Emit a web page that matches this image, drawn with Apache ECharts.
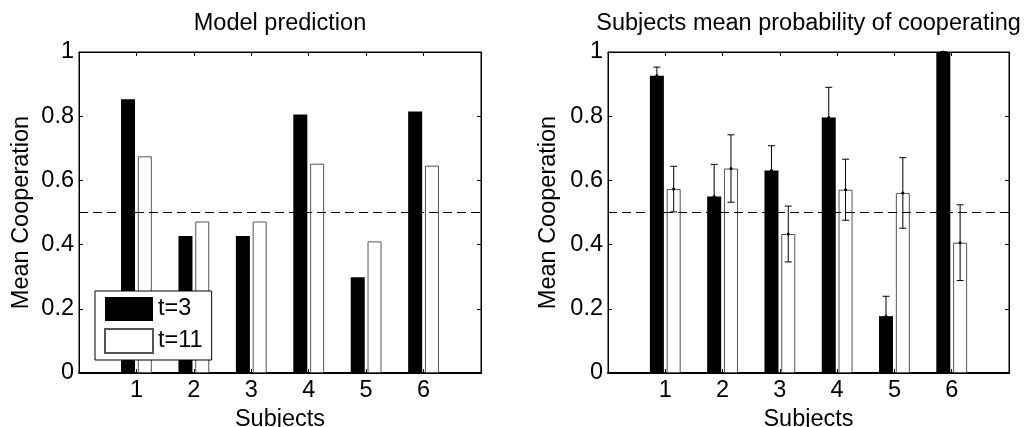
<!DOCTYPE html>
<html>
<head>
<meta charset="utf-8">
<script src="https://cdn.jsdelivr.net/npm/echarts@6/dist/echarts.min.js"></script>
<style>
html,body{margin:0;padding:0;background:#fff;}
#c{width:1025px;height:427px;}
</style>
</head>
<body>
<div id="c"></div>
<script>
// ---- data ----
const categories = ['', '1', '2', '3', '4', '5', '6', ''];
const modelT3 = [0.853, 0.427, 0.427, 0.805, 0.298, 0.815];
const modelT11 = [0.675, 0.472, 0.472, 0.652, 0.410, 0.646];
const subjT3 = [0.926, 0.550, 0.631, 0.796, 0.177, 1.0];
const subjT11 = [0.573, 0.637, 0.433, 0.571, 0.561, 0.406];
const subjT3Err = [0.027, 0.100, 0.077, 0.094, 0.062, 0.0];
const subjT11Err = [0.071, 0.105, 0.087, 0.095, 0.110, 0.118];
const yTicks = [0, 0.2, 0.4, 0.6, 0.8, 1];
const refLine = 0.5;
const titles = ['Model prediction', 'Subjects mean probability of cooperating'];
const legendNames = ['t=3', 't=11'];

// ---- styling ----
const FONT = 'Liberation Sans, Arial, Helvetica, sans-serif';
const FS = 23.5;
const BAR_W = 14;
const GAP_FRAC = 0.2;
const OFF = BAR_W * (1 + GAP_FRAC) / 2;
const Y_MIN = yTicks[0];
const Y_MAX = yTicks[yTicks.length - 1];

function pad(arr) { return ['-'].concat(arr, ['-']); }

const grids = [
  { left: 79, top: 52, width: 402, height: 321, outerBoundsMode: 'none', containLabel: false,
    show: true, borderColor: '#000', borderWidth: 1 },
  { left: 608, top: 52, width: 401, height: 321, outerBoundsMode: 'none', containLabel: false,
    show: true, borderColor: '#000', borderWidth: 1 }
];

function xAxes(gi) {
  return [
    {
      gridIndex: gi, type: 'category', data: categories, boundaryGap: false,
      position: 'bottom',
      axisLine: { show: true, onZero: false, lineStyle: { color: '#000', width: 2 } },
      axisTick: { show: true, inside: true, length: 4, lineStyle: { color: '#000' } },
      axisLabel: { show: true, color: '#000', fontFamily: FONT, fontSize: FS, margin: 6, interval: 0 },
      name: 'Subjects', nameLocation: 'middle', nameGap: 33,
      nameTextStyle: { color: '#000', fontFamily: FONT, fontSize: FS }
    },
    {
      gridIndex: gi, type: 'category', data: categories, boundaryGap: false,
      position: 'top',
      axisLine: { show: true, onZero: false, lineStyle: { color: '#000', width: 1 } },
      axisTick: { show: true, inside: true, length: 4, lineStyle: { color: '#000' } },
      axisLabel: { show: false }
    }
  ];
}
function yAxes(gi, nameGap) {
  return [
    {
      gridIndex: gi, type: 'value', min: Y_MIN, max: Y_MAX,
      interval: yTicks[1] - yTicks[0], position: 'left',
      axisLine: { show: true, onZero: false, lineStyle: { color: '#000', width: 1 } },
      axisTick: { show: true, inside: true, length: 4, lineStyle: { color: '#000' } },
      axisLabel: { color: '#000', fontFamily: FONT, fontSize: FS, margin: 5 },
      splitLine: { show: false },
      name: 'Mean Cooperation', nameLocation: 'middle', nameGap: nameGap,
      nameTextStyle: { color: '#000', fontFamily: FONT, fontSize: FS }
    },
    {
      gridIndex: gi, type: 'value', min: Y_MIN, max: Y_MAX,
      interval: yTicks[1] - yTicks[0], position: 'right',
      axisLine: { show: true, onZero: false, lineStyle: { color: '#000', width: 1 } },
      axisTick: { show: true, inside: true, length: 4, lineStyle: { color: '#000' } },
      axisLabel: { show: false }, splitLine: { show: false }
    }
  ];
}

const refMarks = {
  silent: true, symbol: ['none', 'none'], label: { show: false },
  data: [
    { yAxis: refLine, lineStyle: { color: '#000', width: 1, type: [9, 5] } },
    { yAxis: Y_MAX, lineStyle: { color: '#000', width: 1, type: 'solid' } }
  ]
};

const blackStyle = { color: '#000' };
const whiteStyle = { color: '#fff', borderColor: '#555', borderWidth: 1 };

function errRender(sign) {
  return function (params, api) {
    const i = api.value(0), v = api.value(1), e = api.value(2);
    const c = api.coord([i, v]);
    const hi = api.coord([i, v + e]);
    const lo = api.coord([i, v - e]);
    const x = c[0] + sign * OFF;
    const cap = 3.5;
    const st = { stroke: '#000', lineWidth: 1 };
    return {
      type: 'group',
      children: [
        { type: 'line', shape: { x1: x, y1: hi[1], x2: x, y2: lo[1] }, style: st },
        { type: 'line', shape: { x1: x - cap, y1: hi[1], x2: x + cap, y2: hi[1] }, style: st },
        { type: 'line', shape: { x1: x - cap, y1: lo[1], x2: x + cap, y2: lo[1] }, style: st },
        { type: 'circle', shape: { cx: x, cy: c[1], r: 1.5 }, style: { fill: '#000' } }
      ]
    };
  };
}
function errData(vals, errs) {
  return vals.map((v, k) => [k + 1, v, errs[k]]);
}

const option = {
  backgroundColor: '#fff',
  animation: false,
  textStyle: { fontFamily: FONT },
  title: [
    { text: titles[0], left: (grids[0].left + grids[0].width / 2), top: 12, textAlign: 'center', padding: 0,
      textStyle: { color: '#000', fontWeight: 'normal', fontFamily: FONT, fontSize: FS } },
    { text: titles[1], left: (grids[1].left + grids[1].width / 2), top: 12, textAlign: 'center', padding: 0,
      textStyle: { color: '#000', fontWeight: 'normal', fontFamily: FONT, fontSize: FS } }
  ],
  legend: {
    data: legendNames, orient: 'vertical', left: 95, top: 291,
    padding: [6, 9, 6, 9], itemWidth: 48, itemHeight: 24, itemGap: 7,
    backgroundColor: '#fff', borderColor: '#000', borderWidth: 1,
    textStyle: { color: '#000', fontFamily: FONT, fontSize: FS },
    selectedMode: false, icon: 'rect', z: 20
  },
  grid: grids,
  xAxis: xAxes(0).concat(xAxes(1)),
  yAxis: yAxes(0, 45).concat(yAxes(1, 47)),
  series: [
    { name: legendNames[0], type: 'bar', xAxisIndex: 0, yAxisIndex: 0, data: pad(modelT3),
      barWidth: BAR_W, barGap: (GAP_FRAC * 100) + '%', itemStyle: blackStyle, markLine: refMarks },
    { name: legendNames[1], type: 'bar', xAxisIndex: 0, yAxisIndex: 0, data: pad(modelT11),
      barWidth: BAR_W, barGap: (GAP_FRAC * 100) + '%', itemStyle: whiteStyle },
    { name: 'subjects ' + legendNames[0], type: 'bar', xAxisIndex: 2, yAxisIndex: 2, data: pad(subjT3),
      barWidth: BAR_W, barGap: (GAP_FRAC * 100) + '%', itemStyle: blackStyle, markLine: refMarks },
    { name: 'subjects ' + legendNames[1], type: 'bar', xAxisIndex: 2, yAxisIndex: 2, data: pad(subjT11),
      barWidth: BAR_W, barGap: (GAP_FRAC * 100) + '%', itemStyle: whiteStyle },
    { name: 'err3', type: 'custom', xAxisIndex: 2, yAxisIndex: 2, renderItem: errRender(-1),
      data: errData(subjT3, subjT3Err), encode: { x: 0, y: 1 }, z: 5, clip: false },
    { name: 'err11', type: 'custom', xAxisIndex: 2, yAxisIndex: 2, renderItem: errRender(1),
      data: errData(subjT11, subjT11Err), encode: { x: 0, y: 1 }, z: 5, clip: false }
  ]
};

const chart = echarts.init(document.getElementById('c'), null, { renderer: 'canvas' });
chart.setOption(option);
</script>
</body>
</html>
